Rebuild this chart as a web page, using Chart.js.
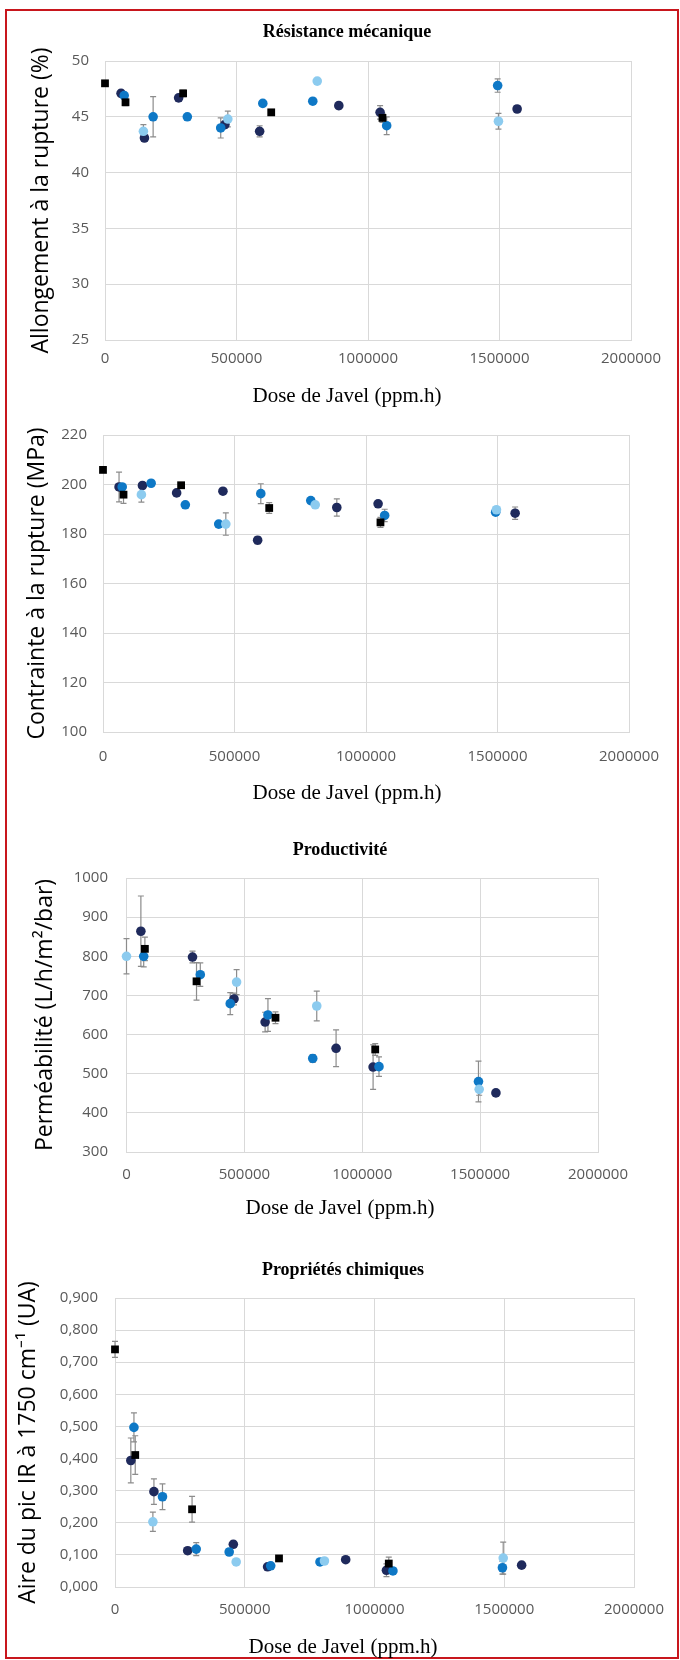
<!DOCTYPE html>
<html lang="fr">
<head>
<meta charset="utf-8">
<script src="https://cdn.jsdelivr.net/npm/chart.js@4.4.1/dist/chart.umd.min.js"></script>
<style>
html,body{margin:0;padding:0;background:#fff;}
#page{position:relative;width:680px;height:1660px;overflow:hidden;background:#fff;}
#frame{position:absolute;left:5px;top:9px;width:670px;height:1646px;border:2px solid #c8161d;}
canvas{position:absolute;left:0;}
</style>
</head>
<body>
<div id="page">
<div id="frame"></div>
<canvas id="c1"></canvas>
<canvas id="c2"></canvas>
<canvas id="c3"></canvas>
<canvas id="c4"></canvas>
</div>
<script>
// doses (ppm.h) per series
const doseNavy=[61000,150000,280000,456000,588000,889000,1046000,1567000];
const doseBlue=[73000,183000,313000,440000,600000,790000,1071000,1493000];
const doseLight=[146000,467000,807000,1496000];
const doseLightPerm=[0,467000,807000,1496000];
const doseBlack=[0,78000,297000,632000,1055000];

const xTicks=[0,500000,1000000,1500000,2000000];

// Allongement a la rupture (%)
const allongNavy=[47.1,43.1,46.7,44.3,43.7,46.0,45.4,45.7];
const allongNavyErr=[0.3,0.3,0.3,0.3,0.5,0.3,0.6,0.3];
const allongBlue=[46.9,45.0,45.0,44.0,46.2,46.4,44.2,47.8];
const allongBlueErr=[0.3,1.8,0.2,0.9,0.2,0.2,0.8,0.6];
const allongLight=[43.7,44.8,48.2,44.6];
const allongLightErr=[0.6,0.7,0.2,0.7];
const allongBlack=[48.0,46.3,47.1,45.4,44.9];
const allongBlackErr=[0.2,0.3,0.3,0.2,0.4];

// Contrainte a la rupture (MPa)
const contrNavy=[199.0,199.6,196.6,197.3,177.5,190.7,192.2,188.4];
const contrNavyErr=[6,1,1,1,1.5,3.5,1,2.5];
const contrBlue=[199.0,200.5,191.8,184.0,196.3,193.5,187.5,188.8];
const contrBlueErr=[1,1,1,1,4,1,2.5,1];
const contrLight=[195.9,184.0,191.8,189.8];
const contrLightErr=[3,4.5,1,1];
const contrBlack=[205.9,195.9,199.7,190.5,184.7];
const contrBlackErr=[1,3.5,1,2.2,2];

// Permeabilite (L/h/m2/bar)
const permNavy=[864,null,798,691,632,565,517,451];
const permNavyErr=[90,0,15,15,25,47,57,5];
const permBlue=[800,null,753,679,650,539,518,480];
const permBlueErr=[27,0,30,28,42,10,25,52];
const permLight=[800,734,673,460];
const permLightErr=[45,32,38,15];
const permBlack=[null,819,736,643,562];
const permBlackErr=[0,30,48,15,15];

// Aire du pic IR a 1750 cm-1 (UA)
const irNavy=[0.394,0.297,0.113,0.133,0.063,0.085,0.052,0.068];
const irNavyErr=[0.07,0.04,0.01,0.01,0.005,0.005,0.02,0.005];
const irBlue=[0.497,0.281,0.118,0.109,0.066,0.078,0.050,0.060];
const irBlueErr=[0.045,0.04,0.02,0.01,0.005,0.005,0.01,0.02];
const irLight=[0.203,0.078,0.081,0.090];
const irLightErr=[0.03,0.005,0.005,0.05];
const irBlack=[0.740,0.411,0.242,0.089,0.073];
const irBlackErr=[0.025,0.06,0.04,0.005,0.02];

const W=680;
const navyCol='#1f2a5c', blueCol='#0e78c6', lightCol='#8ccbef', blackCol='#000000';

// error bars drawn from each dataset's errors array, through the chart scales
const errorBars={
id:'errorBars',
beforeDatasetsDraw(chart)
{
const {ctx,scales:{x,y}}=chart;
ctx.save();
ctx.strokeStyle='#8c8c8c';
ctx.lineWidth=1.2;
chart.data.datasets.forEach(ds=>
{
(ds.errors||[]).forEach((e,i)=>
{
const p=ds.data[i];
if(p.y===null||!e) return;
const px=x.getPixelForValue(p.x);
const t=y.getPixelForValue(p.y+e);
const b=y.getPixelForValue(p.y-e);
ctx.beginPath();
ctx.moveTo(px,t);ctx.lineTo(px,b);
ctx.moveTo(px-3,t);ctx.lineTo(px+3,t);
ctx.moveTo(px-3,b);ctx.lineTo(px+3,b);
ctx.stroke();
});
});
ctx.restore();
}
};

function series(doses,vals,errs,col,style,order)
{
return {
data:doses.map((d,i)=>({x:d,y:vals[i]})),
errors:errs,
backgroundColor:col,
borderColor:col,
borderWidth:0,
pointStyle:style,
pointRadius:style==='rect'?5.5:4.8,
pointHoverRadius:style==='rect'?5.5:4.8,
clip:false,
order:order
};
}

function build(id,lay,yAxis,datasets,titleText)
{
const cv=document.getElementById(id);
const lhT=18*1.2, lhX=21*1.2, lhY=23*1.2;
const H=Math.ceil(lay.xTitleY+lhX/2+4-lay.top);
cv.width=W; cv.height=H;
cv.style.top=lay.top+'px';
const shift=2*lay.cx-W;
const padL=Math.max(0,shift), padR=Math.max(0,-shift);
const hx=lay.tickY-lay.B+12;
const tickFont={family:'"Open Sans"',size:15};
return new Chart(cv,{
type:'scatter',
data:{datasets},
options:{
responsive:false,
animation:false,
events:[],
layout:{padding:{left:padL,right:padR,top:titleText?0:lay.T-lay.top,bottom:0}},
plugins:{
legend:{display:false},
tooltip:{enabled:false},
title:titleText?{
display:true,text:titleText,color:'#000',
font:{family:'"Liberation Serif"',size:18,weight:'bold'},
padding:{top:lay.titleY-lay.top-lhT/2,bottom:lay.T-lay.titleY-lhT/2}
}:{display:false},
subtitle:{
display:true,position:'bottom',text:'Dose de Javel (ppm.h)',color:'#000',
font:{family:'"Liberation Serif"',size:21},
padding:{top:lay.xTitleY-lay.B-hx-lhX/2,bottom:H-(lay.xTitleY-lay.top)-lhX/2}
}
},
scales:{
x:{
type:'linear',min:0,max:2000000,
afterBuildTicks:s=>{s.ticks=xTicks.map(v=>({value:v}));},
ticks:{padding:lay.tickY-lay.B-9,color:'#595959',font:tickFont,maxRotation:0,autoSkip:false,callback:v=>String(v)},
grid:{color:'#d9d9d9',drawTicks:false},
border:{color:'#d9d9d9'},
afterFit:s=>{s.height=hx;s.paddingLeft=0;s.paddingRight=W-lay.R;}
},
y:{
type:'linear',min:yAxis.min,max:yAxis.max,
ticks:{stepSize:yAxis.step,padding:lay.L-lay.labelR,color:'#595959',font:tickFont,callback:yAxis.fmt},
grid:{color:'#d9d9d9',drawTicks:false},
border:{display:false},
title:{display:true,text:yAxis.title,color:'#000',font:{family:'"Open Sans"',size:23},padding:{top:lay.yTitleX-padL-lhY/2,bottom:0}},
afterFit:s=>{s.width=lay.L-padL;s.paddingTop=0;s.paddingBottom=0;}
}
}
},
plugins:[errorBars]
});
}

const intFmt=v=>String(Math.round(v));

build('c1',
{top:0,cx:347,titleY:32,L:105,T:61,R:631,B:340,labelR:89,yTitleX:41,tickY:359,xTitleY:396},
{min:25,max:50,step:5,fmt:intFmt,title:'Allongement à la rupture (%)'},
[
series(doseNavy,allongNavy,allongNavyErr,navyCol,'circle',3),
series(doseBlue,allongBlue,allongBlueErr,blueCol,'circle',2),
series(doseLight,allongLight,allongLightErr,lightCol,'circle',1),
series(doseBlack,allongBlack,allongBlackErr,blackCol,'rect',0)
],'Résistance mécanique');

build('c2',
{top:412,cx:347,titleY:null,L:103,T:435,R:629,B:732,labelR:87,yTitleX:37,tickY:757,xTitleY:793},
{min:100,max:220,step:20,fmt:intFmt,title:'Contrainte à la rupture (MPa)'},
[
series(doseNavy,contrNavy,contrNavyErr,navyCol,'circle',3),
series(doseBlue,contrBlue,contrBlueErr,blueCol,'circle',2),
series(doseLight,contrLight,contrLightErr,lightCol,'circle',1),
series(doseBlack,contrBlack,contrBlackErr,blackCol,'rect',0)
],null);

build('c3',
{top:810,cx:340,titleY:850,L:126.5,T:878,R:598,B:1152,labelR:108,yTitleX:45,tickY:1175,xTitleY:1208},
{min:300,max:1000,step:100,fmt:intFmt,title:'Perméabilité (L/h/m²/bar)'},
[
series(doseNavy,permNavy,permNavyErr,navyCol,'circle',3),
series(doseBlue,permBlue,permBlueErr,blueCol,'circle',2),
series(doseLightPerm,permLight,permLightErr,lightCol,'circle',1),
series(doseBlack,permBlack,permBlackErr,blackCol,'rect',0)
],'Productivité');

build('c4',
{top:1226,cx:343,titleY:1270,L:115,T:1298,R:634,B:1587,labelR:98,yTitleX:28,tickY:1610,xTitleY:1647},
{min:0,max:0.9,step:0.1,fmt:v=>v.toFixed(3).replace('.',','),title:'Aire du pic IR à 1750 cm⁻¹ (UA)'},
[
series(doseNavy,irNavy,irNavyErr,navyCol,'circle',3),
series(doseBlue,irBlue,irBlueErr,blueCol,'circle',2),
series(doseLight,irLight,irLightErr,lightCol,'circle',1),
series(doseBlack,irBlack,irBlackErr,blackCol,'rect',0)
],'Propriétés chimiques');
</script>
</body>
</html>
